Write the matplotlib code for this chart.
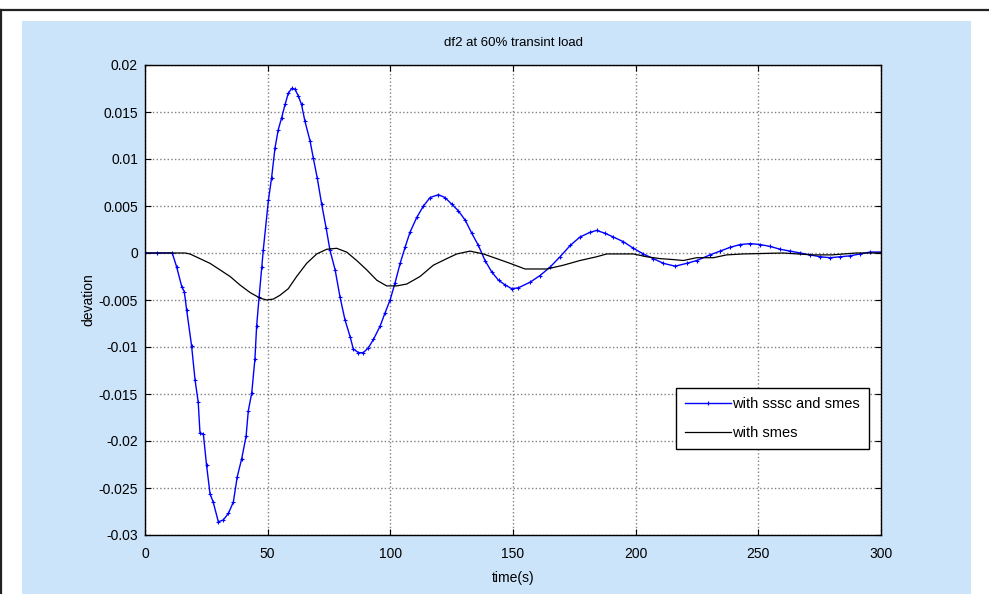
import numpy as np
import matplotlib
matplotlib.use("Agg")
import matplotlib.pyplot as plt
from matplotlib.patches import Rectangle
from matplotlib.lines import Line2D

plt.rcParams['font.family'] = ['Liberation Sans', 'DejaVu Sans']

# with sssc and smes (blue)
t_sssc = [0, 5, 11.1, 12.9, 15, 16, 17, 19, 20.4, 21.7, 22.4, 23.8, 25.1, 26.5, 27.8,
          29.9, 31.9, 34, 36, 37.6, 39.4, 41.2, 42.1, 43.5, 44.8, 45.5, 46.5, 47.6,
          48.2, 50.3, 51.6, 53, 54.3, 55.7, 57.1, 58.4, 59.8, 61.2, 62.5, 63.8, 65.2,
          67.3, 68.6, 70.2, 72, 73.8, 75.4, 77.5, 79.5, 81.5, 83.6, 84.9, 87, 89, 91,
          93.1, 95.8, 97.8, 99.9, 101.9, 104, 106, 108, 110.8, 113.5, 116.2, 119.6,
          122.3, 125, 127.7, 130.5, 133.2, 135.9, 138.6, 141.3, 144.1, 146.8, 149.5,
          152.2, 157, 161, 165.1, 169.2, 173.3, 177.3, 181.4, 184.1, 187.5, 190.9,
          195, 199.1, 203.1, 207.2, 211.3, 216.1, 220.8, 224.9, 230.3, 234.4, 238.5,
          242.6, 246.7, 250.7, 254.8, 258.9, 263, 267, 271.1, 275.2, 279.3, 283.3,
          287.4, 291.5, 295.6, 300]
v_sssc = [0, 0, 0, -0.00148, -0.0036, -0.0041, -0.0061, -0.0099, -0.0135, -0.0159,
          -0.0191, -0.0193, -0.0226, -0.0256, -0.0265, -0.0286, -0.0284, -0.0277,
          -0.0265, -0.0238, -0.0219, -0.0195, -0.0168, -0.0149, -0.0113, -0.0078,
          -0.0047, -0.0015, 0.0003, 0.0056, 0.0080, 0.0112, 0.0131, 0.0144, 0.0158,
          0.0170, 0.0175, 0.0174, 0.0167, 0.0158, 0.0140, 0.0119, 0.0101, 0.0080,
          0.0052, 0.0027, 0.0003, -0.0018, -0.0047, -0.0071, -0.0089, -0.0102,
          -0.0106, -0.0106, -0.0101, -0.0092, -0.0078, -0.0064, -0.0050, -0.0032,
          -0.0011, 0.0006, 0.0022, 0.0038, 0.0050, 0.0059, 0.0062, 0.0059, 0.0052,
          0.0045, 0.0035, 0.0021, 0.0008, -0.0008, -0.0020, -0.0029, -0.0034,
          -0.0038, -0.0037, -0.0031, -0.0024, -0.0015, -0.0004, 0.0008, 0.0017,
          0.0022, 0.0024, 0.0021, 0.0017, 0.0012, 0.0005, -0.0001, -0.0006, -0.0011,
          -0.0014, -0.0011, -0.0008, -0.0002, 0.0002, 0.0006, 0.0009, 0.0010,
          0.0009, 0.0007, 0.0004, 0.0002, 0.0, -0.0002, -0.0004, -0.0005, -0.0004,
          -0.0003, -0.0001, 0.0001, 0.0001]

# with smes (black)
t_smes = [0, 10, 16.3, 18.3, 22.4, 26.5, 30.6, 34.7, 38.7, 42.8, 46.9, 49.6, 52.3,
          55, 58.4, 61.8, 65.9, 70, 74.1, 78.1, 82.2, 86.3, 90.4, 94.5, 98.5, 102.6,
          106.7, 112.1, 117.5, 123, 127.1, 132.5, 137.9, 143.4, 148.8, 154.9, 163.8,
          170.5, 177.3, 184.1, 188.2, 199.1, 204.5, 210, 215.4, 219.4, 224.9, 231.7,
          237.1, 243.9, 260, 272, 280, 290, 300]
v_smes = [0, 0, 0, -0.0001, -0.0006, -0.0011, -0.0018, -0.0025, -0.0034, -0.0042,
          -0.0048, -0.0050, -0.0049, -0.0045, -0.0038, -0.0025, -0.0011, -0.0001,
          0.0004, 0.0005, 0.0001, -0.0008, -0.0018, -0.0029, -0.0035, -0.0035,
          -0.0033, -0.0025, -0.0013, -0.0006, -0.0001, 0.0002, -0.0001, -0.0006,
          -0.0011, -0.0017, -0.0017, -0.0013, -0.0008, -0.0004, -0.0001, -0.0001,
          -0.0004, -0.0006, -0.0007, -0.0008, -0.0005, -0.0005, -0.0002, -0.0001,
          0.0, -0.0002, -0.0002, 0.0, 0.0]

x_ticks = [0, 50, 100, 150, 200, 250, 300]
y_ticks = [-0.03, -0.025, -0.02, -0.015, -0.01, -0.005, 0, 0.005, 0.01, 0.015, 0.02]
y_tick_labels = ['-0.03', '-0.025', '-0.02', '-0.015', '-0.01', '-0.005', '0',
                 '0.005', '0.01', '0.015', '0.02']

W, H = 989, 594
fig = plt.figure(figsize=(W / 100, H / 100), dpi=100, facecolor='white')

# light blue panel and outer frame (behind the axes)
fig.patches.append(Rectangle((22 / W, 0), (971 - 22) / W, (H - 21) / H,
                             transform=fig.transFigure, facecolor='#cce4fa',
                             edgecolor='none', zorder=-5))
fig.lines.append(Line2D([1 / W, 1], [1 - 10 / H, 1 - 10 / H], transform=fig.transFigure,
                        color='#222222', lw=1.6, zorder=-5))
fig.lines.append(Line2D([1 / W, 1 / W], [0, 1 - 10 / H], transform=fig.transFigure,
                        color='#222222', lw=1.6, zorder=-5))

ax = fig.add_axes([145 / W, (H - 535) / H, (881 - 145) / W, (535 - 65) / H])
ax.set_zorder(2)
ax.set_facecolor('white')

ax.plot(t_sssc, v_sssc, color='#0000ff', lw=1.0, marker='+', markersize=3,
        markeredgewidth=0.8, label='with sssc and smes')
ax.plot(t_smes, v_smes, color='black', lw=0.9, label='with smes')

ax.set_xlim(0, 300)
ax.set_ylim(-0.03, 0.02)
ax.set_xticks(x_ticks)
ax.set_yticks(y_ticks)
ax.set_yticklabels(y_tick_labels)
ax.tick_params(direction='in', length=4, width=0.8, labelsize=10, top=True, right=True)
ax.tick_params(axis='x', pad=9)
ax.tick_params(axis='y', pad=5)
ax.grid(True, color='#808080', linestyle=':', linewidth=1.0)
for s in ax.spines.values():
    s.set_linewidth(1.0)

ax.set_title('df2 at 60% transint load', fontsize=9.5, pad=14)
ax.set_xlabel('time(s)', fontsize=10, labelpad=7)
ax.set_ylabel('devation', fontsize=10, labelpad=2)

leg = ax.legend(loc='upper right', bbox_to_anchor=(0.984, 0.313), borderaxespad=0,
                fancybox=False, framealpha=1, edgecolor='black', fontsize=10.5,
                handlelength=3.1, handletextpad=0.1, borderpad=0.65,
                labelspacing=1.0, markerscale=1)
leg.get_frame().set_linewidth(1.0)

fig.savefig('out.png', dpi=100)
